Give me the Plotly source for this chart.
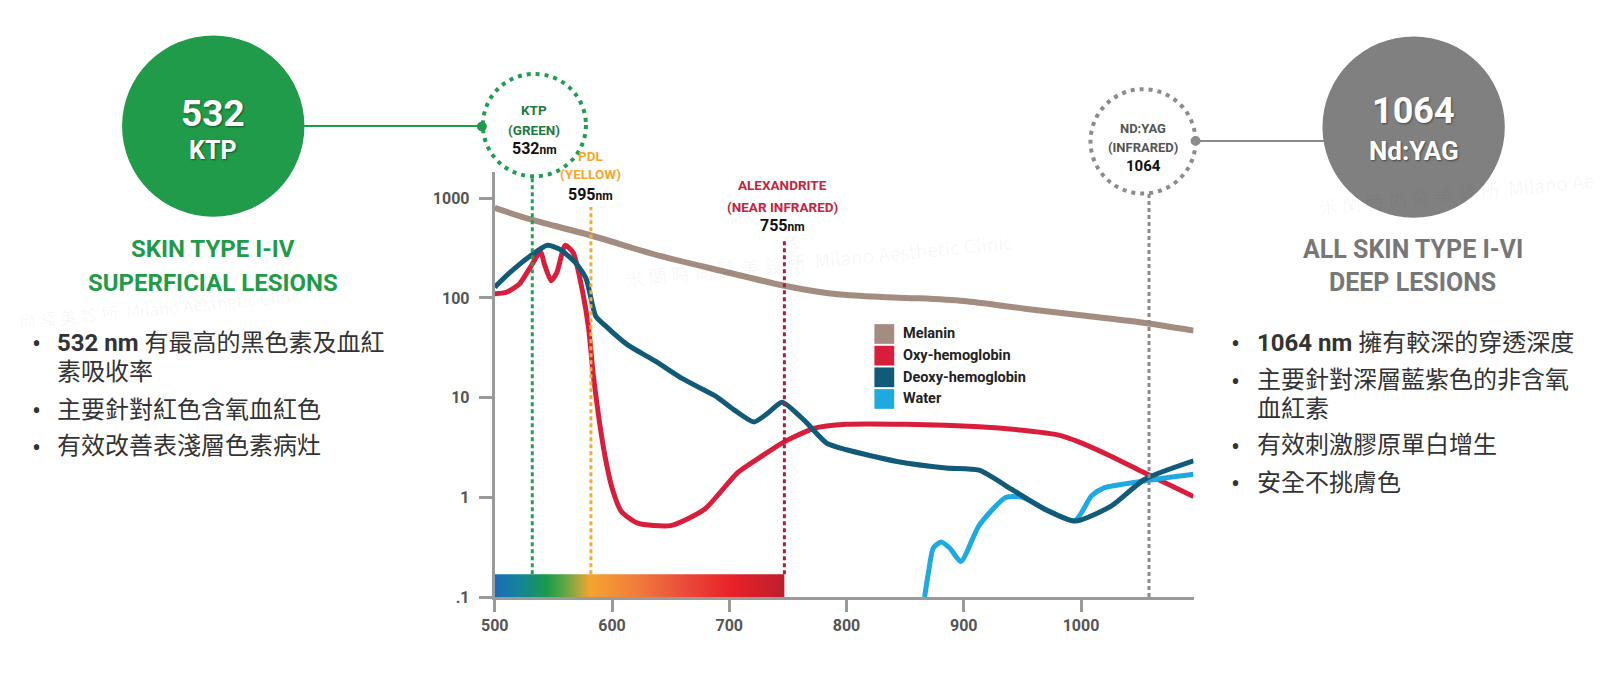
import plotly.graph_objects as go

W, H = 1600, 674

# ---------------- data ----------------
wl_melanin = [500, 532, 580, 642, 699, 745, 783, 800, 840, 862, 900, 952, 1000, 1050, 1096]
melanin    = [800, 605, 430, 262, 180, 134, 112, 107, 101, 99, 93, 78, 67, 57, 47]

wl_oxy = [500, 510, 521, 531, 539, 542, 548, 553, 560, 567, 575, 580, 584, 589, 594, 600, 608, 622,
          650, 679, 707, 728, 745, 772, 800, 850, 913, 950, 981, 998, 1026, 1054, 1096]
oxy    = [110, 114, 138, 209, 294, 225, 149, 180, 337, 283, 114, 50, 17, 6.0, 2.6, 1.25, 0.72, 0.55,
          0.52, 0.76, 1.76, 2.6, 3.5, 4.9, 5.4, 5.4, 5.1, 4.7, 4.2, 3.6, 2.57, 1.76, 1.02]

wl_deoxy = [500, 513, 530, 545, 556, 569, 578, 586, 594, 613, 637, 660, 688, 705, 721, 733, 745,
            764, 783, 800, 843, 885, 913, 941, 969, 995, 1026, 1054, 1096]
deoxy    = [128, 180, 262, 337, 305, 225, 155, 66, 53, 34, 23.2, 15.5, 10.4, 7.4, 5.7, 7.0, 9.0,
            5.9, 3.5, 3.0, 2.29, 1.97, 1.87, 1.2, 0.76, 0.577, 0.82, 1.51, 2.32]

wl_water = [866.6, 870, 874, 880.7, 888, 897.6, 913, 935.7, 950, 969.5, 995, 1009, 1020, 1054, 1096]
water    = [0.1, 0.18, 0.31, 0.357, 0.31, 0.227, 0.52, 0.995, 1.0, 0.76, 0.586, 1.035, 1.25, 1.46, 1.70]

series_names = ["Melanin", "Oxy-hemoglobin", "Deoxy-hemoglobin", "Water"]
series_colors = ["#a38d80", "#d91e3c", "#115a78", "#1fa9e1"]

x_ticks = [500, 600, 700, 800, 900, 1000]
y_ticks = [0.1, 1, 10, 100, 1000]
y_ticktext = [".1", "1", "10", "100", "1000"]

laser_wl = {"KTP": 532, "PDL": 582, "ALEX": 747, "NDYAG": 1058}
spectrum_range = [500, 747]
spectrum_band = [0.1, 0.169]

# ---------------- helpers ----------------
NARROW = "Roboto, Liberation Sans Narrow, sans-serif"
CJK = "Roboto, Noto Sans CJK TC, sans-serif"

def px(x):
    return x / W

def py(y):
    return 1 - y / H

fig = go.Figure()

# spectrum colour bar
fig.add_trace(go.Scatter(
    x=[spectrum_range[0], spectrum_range[1], spectrum_range[1], spectrum_range[0], spectrum_range[0]],
    y=[spectrum_band[0], spectrum_band[0], spectrum_band[1], spectrum_band[1], spectrum_band[0]],
    mode="lines", line=dict(width=0), fill="toself",
    fillgradient=dict(type="horizontal", colorscale=[
        [0.0, "#1c6cb8"], [0.09, "#148597"], [0.18, "#1a9a4a"], [0.25, "#6aa844"],
        [0.33, "#f5a431"], [0.5, "#f07a3c"], [0.66, "#ea4a3a"], [0.82, "#e82128"], [1.0, "#bd1e2e"]]),
    hoverinfo="skip", showlegend=False))

fig.add_trace(go.Scatter(x=wl_melanin, y=melanin, mode="lines", name="Melanin",
                         line=dict(color=series_colors[0], width=6, shape="spline", smoothing=0.8)))
fig.add_trace(go.Scatter(x=wl_oxy, y=oxy, mode="lines", name="Oxy-hemoglobin",
                         line=dict(color=series_colors[1], width=5, shape="spline", smoothing=0.6)))
fig.add_trace(go.Scatter(x=wl_water, y=water, mode="lines", name="Water",
                         line=dict(color=series_colors[3], width=5, shape="spline", smoothing=0.6)))
fig.add_trace(go.Scatter(x=wl_deoxy, y=deoxy, mode="lines", name="Deoxy-hemoglobin",
                         line=dict(color=series_colors[2], width=5, shape="spline", smoothing=0.6)))

shapes = []
annotations = []

def vline(x, ytop, ybot, color):
    shapes.append(dict(type="line", xref="x", yref="paper", x0=x, x1=x, y0=py(ybot), y1=py(ytop),
                       line=dict(color=color, width=3, dash="4px,3px"), layer="above"))

vline(laser_wl["KTP"], 179, 583, "#1ea352")
vline(laser_wl["PDL"], 210, 583, "#f2ac3a")
vline(laser_wl["ALEX"], 243, 583, "#a8223c")
vline(laser_wl["NDYAG"], 197, 606, "#8a8a8a")

def circle(cx, cy, r, fill=None, line=None):
    d = dict(type="circle", xref="paper", yref="paper",
             x0=px(cx - r), x1=px(cx + r), y0=py(cy + r), y1=py(cy - r), layer="above")
    if fill:
        d["fillcolor"] = fill
    d["line"] = line if line else dict(width=0)
    shapes.append(d)

def hline(x0, x1, y, color, width=2):
    shapes.append(dict(type="line", xref="paper", yref="paper", x0=px(x0), x1=px(x1), y0=py(y), y1=py(y),
                       line=dict(color=color, width=width)))

GREEN = "#1f9b49"
GRAY = "#808080"

hline(292, 472, 128, GREEN, 2)
circle(201, 128, 92, fill=GREEN)
circle(472, 128.5, 5, fill=GREEN)
circle(525, 127, 52, line=dict(color="#1e9e50", width=4, dash="4px,5px"))

hline(1192, 1322, 143, "#8a8a8a", 2)
circle(1412, 129, 92, fill=GRAY)
circle(1192, 143, 5, fill="#8a8a8a")
circle(1139, 143.5, 53, line=dict(color="#8c8c8c", width=4, dash="4px,5px"))

def text(t, x, y, size, color, family=NARROW, xanchor="center", shadow=None, angle=0):
    f = dict(family=family, size=size, color=color)
    if shadow:
        f["shadow"] = shadow
    annotations.append(dict(text=t, x=px(x), y=py(y), xref="paper", yref="paper", showarrow=False,
                            xanchor=xanchor, yanchor="middle", align=xanchor if xanchor != "center" else "center",
                            font=f, textangle=angle, borderpad=0))

# faint watermarks
WM_FULL = "米 蘭 時 尚 醫 美 診 所  Milano Aesthetic Clinic"
WM_LEFT = "尚 醫 美 診 所  Milano Aesthetic Clinic"
WM_RIGHT = "米 蘭 時 尚 醫 美 診 所  Milano Ae"
WMC = "rgba(0,0,0,0.045)"
WMF = "Noto Sans CJK TC, sans-serif"
text(WM_FULL, 812, 263, 19, WMC, family=WMF, angle=-5.5)
text(WM_RIGHT, 1455, 195, 19, WMC, family=WMF, angle=-5.5)
text(WM_LEFT, 148, 312, 17, WMC, family=WMF, angle=-5.5)

SH = "1px 1px 2px rgba(0,0,0,0.45)"
text("<b>532</b>", 201, 115, 37, "white", shadow=SH)
text("<b>KTP</b>", 201, 153, 25, "white", shadow=SH)
text("<b>SKIN TYPE I-IV</b>", 201, 253, 24, GREEN)
text("<b>SUPERFICIAL LESIONS</b>", 201, 287, 24, GREEN)

text("<b>1064</b>", 1412, 113, 36, "white", shadow=SH)
text("<b>Nd:YAG</b>", 1412, 153, 26, "white", shadow=SH)
text("<b>ALL SKIN TYPE I-VI</b>", 1411, 253, 25, "#777777")
text("<b>DEEP LESIONS</b>", 1411, 287, 25, "#777777")

text("<b>KTP</b>", 525, 112, 13.5, "#1e7a3e")
text("<b>(GREEN)</b>", 525, 132, 13.5, "#1e7a3e")
text("<b>532</b><span style='font-size:12px'><b>nm</b></span>", 525, 151, 16, "#111111")

text("<b>PDL</b>", 582, 158, 13.5, "#f5a62b")
text("<b>(YELLOW)</b>", 582, 177, 13.5, "#f5a62b")
text("<b>595</b><span style='font-size:12px'><b>nm</b></span>", 582, 197, 16, "#111111")

text("<b>ALEXANDRITE</b>", 775, 188, 13.5, "#c8223c")
text("<b>(NEAR INFRARED)</b>", 775, 210, 13.5, "#c8223c")
text("<b>755</b><span style='font-size:12px'><b>nm</b></span>", 775, 229, 16, "#111111")

text("<b>ND:YAG</b>", 1139, 130, 13, "#555555")
text("<b>(INFRARED)</b>", 1139, 150, 13, "#555555")
text("<b>1064</b>", 1139, 169, 15, "#111111")

TXT = "#333333"
BUL = "Noto Sans, sans-serif"
left_lines = [(348, True, "<b>532 nm</b> 有最高的黑色素及血紅"), (378, False, "素吸收率"),
              (416, True, "主要針對紅色含氧血紅色"), (453, True, "有效改善表淺層色素病灶")]
for (yy, bullet, t) in left_lines:
    if bullet:
        text("•", 17, yy, 24, TXT, family=BUL, xanchor="left")
    text(t, 42, yy, 24, TXT, family=CJK, xanchor="left")

right_lines = [(348, True, "<b>1064 nm</b> 擁有較深的穿透深度"), (386, True, "主要針對深層藍紫色的非含氧"),
               (415, False, "血紅素"), (452, True, "有效刺激膠原單白增生"), (490, True, "安全不挑膚色")]
for (yy, bullet, t) in right_lines:
    if bullet:
        text("•", 1227, yy, 24, TXT, family=BUL, xanchor="left")
    text(t, 1253, yy, 24, TXT, family=CJK, xanchor="left")

leg_y = [339, 361, 383, 405]
for name, col, yy in zip(series_names, series_colors, leg_y):
    shapes.append(dict(type="rect", xref="paper", yref="paper", x0=px(868), x1=px(888),
                       y0=py(yy + 10), y1=py(yy - 10), fillcolor=col, line=dict(width=0)))
    text("<b>" + name + "</b>", 896, yy, 14.5, "#222222", xanchor="left")

fig.update_layout(
    width=W, height=H, margin=dict(l=0, r=0, t=0, b=0),
    paper_bgcolor="white", plot_bgcolor="white", showlegend=False,
    shapes=shapes, annotations=annotations,
    xaxis=dict(domain=[485 / W, 1190 / W], range=[500, 1096], tickvals=x_ticks,
               showgrid=False, zeroline=False, showline=True, linecolor="#9a9a9a", linewidth=3,
               ticks="outside", ticklen=12, tickwidth=3, tickcolor="#9a9a9a",
               tickfont=dict(family=NARROW, size=16, color="#555555", weight="bold")),
    yaxis=dict(domain=[68 / H, 499 / H], type="log", range=[-1, 3.259], tickvals=y_ticks,
               ticktext=y_ticktext, showgrid=False, zeroline=False, showline=True,
               linecolor="#9a9a9a", linewidth=3, ticks="outside", ticklen=13, tickwidth=3,
               tickcolor="#9a9a9a", ticklabelstandoff=6,
               tickfont=dict(family=NARROW, size=16, color="#555555", weight="bold")),
)

fig.write_html("out.html")
